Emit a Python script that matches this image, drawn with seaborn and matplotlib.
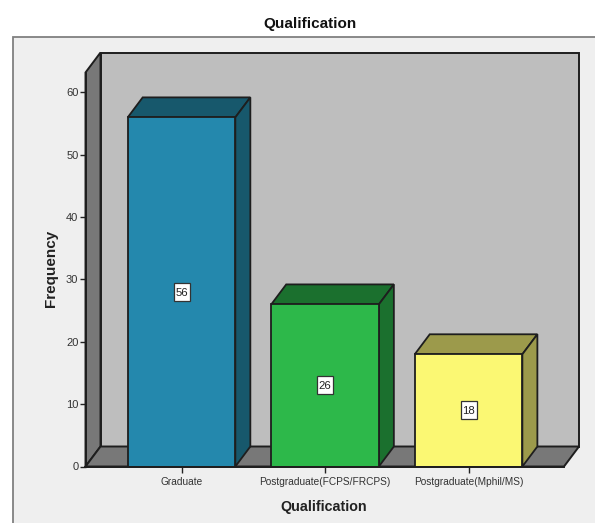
import matplotlib
matplotlib.use("Agg")
import matplotlib.pyplot as plt
from matplotlib.patches import Rectangle
import pandas as pd
import seaborn as sns

categories = ["Graduate", "Postgraduate(FCPS/FRCPS)", "Postgraduate(Mphil/MS)"]
frequencies = [56, 26, 18]
front_colors = ["#2488AD", "#2DB84A", "#FBF873"]
shade_colors = ["#17586C", "#1B702E", "#9C9A4B"]
y_ticks = [0, 10, 20, 30, 40, 50, 60]

W, H = 595, 523
EDGE = "#1E1E1E"
WALL = "#787878"
BACK = "#BEBEBE"
PANEL = "#EFEFEF"

sns.set_theme(style="white")
plt.rcParams["font.family"] = ["Liberation Sans", "DejaVu Sans"]

fig = plt.figure(figsize=(W / 100, H / 100), dpi=100, facecolor="white")

# Light panel behind the chart, running off the right and bottom edges
fig.add_artist(Rectangle((13 / W, -0.02), 1.0, (H - 37) / H + 0.02,
                         transform=fig.transFigure, facecolor=PANEL,
                         edgecolor="#808080", linewidth=1.3, zorder=-1))

# Front plane of the box; the depth offset below is in data units
ax = fig.add_axes([85.5 / W, (H - 466.5) / H, 478.5 / W, 394 / H])
ax.patch.set_alpha(0)
x0, x1 = -0.669, 2.665
y1 = 63.2
ax.set_xlim(x0, x1)
ax.set_ylim(0, y1)
dx, dy = 15 / 143.5, 20 / 6.235
tag_w, tag_h = 16 / 143.5, 18 / 6.235

# Back wall, side wall and floor of the box
ax.fill([x0 + dx, x1 + dx, x1 + dx, x0 + dx], [dy, dy, y1 + dy, y1 + dy],
        facecolor=BACK, edgecolor=EDGE, lw=1.4, clip_on=False, zorder=1)
ax.fill([x0, x0 + dx, x0 + dx, x0], [0, dy, y1 + dy, y1],
        facecolor=WALL, edgecolor=EDGE, lw=1.4, clip_on=False, zorder=1.1)
ax.fill([x0, x1, x1 + dx, x0 + dx], [0, 0, dy, dy],
        facecolor=WALL, edgecolor=EDGE, lw=1.4, clip_on=False, zorder=1.1)

df = pd.DataFrame({"Qualification": categories, "Frequency": frequencies})
sns.barplot(data=df, x="Qualification", y="Frequency", hue="Qualification",
            palette=front_colors, width=0.75, legend=False, ax=ax,
            edgecolor=EDGE, linewidth=1.3, saturation=1, zorder=3)
ax.set_xlim(x0, x1)
ax.set_ylim(0, y1)

bars = [bar for container in ax.containers for bar in container]

# Top and side faces of each bar, then its value tag
for bar, value, shade in zip(bars, frequencies, shade_colors):
    left, right = bar.get_x(), bar.get_x() + bar.get_width()
    mid = (left + right) / 2
    ax.fill([left, right, right + dx, left + dx],
            [value, value, value + dy, value + dy],
            facecolor=shade, edgecolor=EDGE, lw=1.3, clip_on=False, zorder=2)
    ax.fill([right, right + dx, right + dx, right],
            [0, dy, value + dy, value],
            facecolor=shade, edgecolor=EDGE, lw=1.3, clip_on=False, zorder=2)
    ax.add_patch(Rectangle((mid - tag_w / 2, value / 2 - tag_h / 2), tag_w, tag_h,
                           facecolor="white", edgecolor="#333333", linewidth=0.9,
                           zorder=5))
    ax.text(mid, value / 2, f"{value}", ha="center", va="center_baseline",
            fontsize=8.2, color="#222222", zorder=6)

for side in ("top", "right"):
    ax.spines[side].set_visible(False)
for side in ("left", "bottom"):
    ax.spines[side].set_color(EDGE)
    ax.spines[side].set_linewidth(1.4)
    ax.spines[side].set_zorder(4)

ax.set_yticks(y_ticks)
ax.tick_params(axis="both", which="major", direction="out", length=4.5,
               width=1.0, color="#222222", labelcolor="#333333", left=True,
               bottom=True)
ax.tick_params(axis="y", labelsize=8, pad=0.6)
ax.tick_params(axis="x", labelsize=7.3, pad=3)
ax.set_xlabel("")
ax.set_ylabel("")

fig.text(310 / W, 1 - 24 / H, "Qualification", ha="center", va="center",
         fontsize=11, color="#111111", fontweight="bold")
fig.text(324 / W, 1 - 507 / H, "Qualification", ha="center", va="center",
         fontsize=10.3, fontweight="bold", color="#222222")
fig.text(51 / W, 1 - 268 / H, "Frequency", ha="center", va="center",
         rotation=90, fontsize=11, fontweight="bold", color="#222222")

fig.savefig("out.png", dpi=100, facecolor="white")
